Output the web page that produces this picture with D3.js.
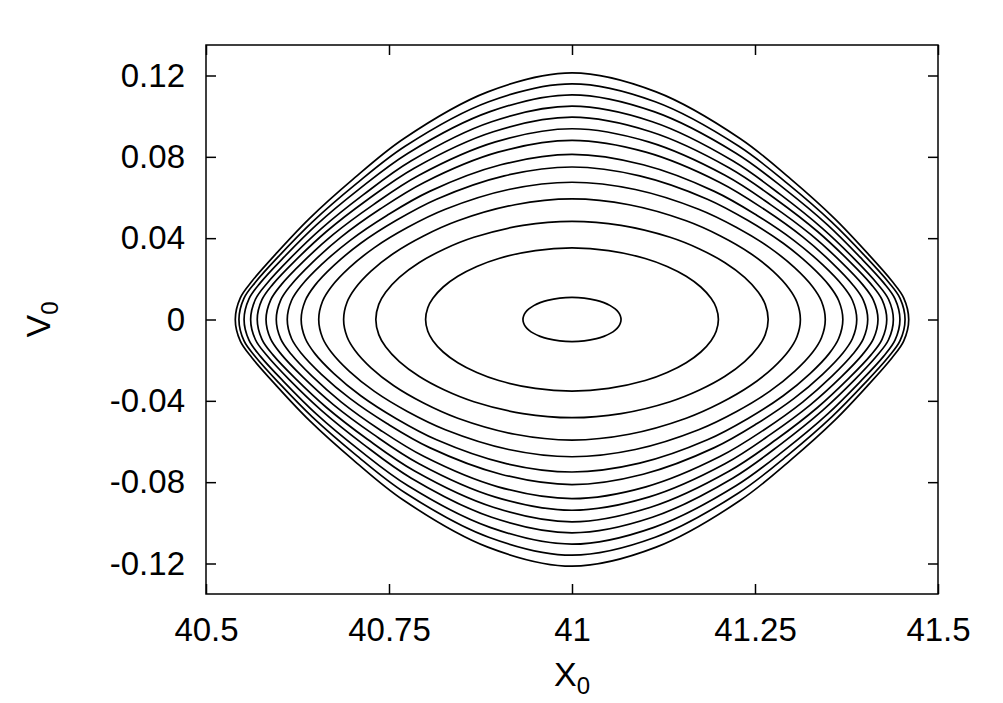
<!DOCTYPE html>
<html><head><meta charset="utf-8">
<script src="https://cdn.jsdelivr.net/npm/d3@7"></script>
<style>body{margin:0;background:#fff}svg{display:block}</style>
</head><body>
<svg id="c" width="1003" height="703"></svg>
<script>
// ---- data ----
const xTicks = [40.5, 40.75, 41, 41.25, 41.5];
const xTickLabels = ["40.5", "40.75", "41", "41.25", "41.5"];
const yTicks = [-0.12, -0.08, -0.04, 0, 0.04, 0.08, 0.12];
const yTickLabels = ["-0.12", "-0.08", "-0.04", "0", "0.04", "0.08", "0.12"];
const xCenter = 41;
// right-hand turning point (v = 0) of each closed orbit, outer to inner
const xRight = [41.460, 41.455, 41.448, 41.439, 41.430, 41.418, 41.404, 41.389, 41.370, 41.346, 41.312, 41.268, 41.200, 41.067];
// peak velocity (at X0 = 41) of each orbit, outer to inner
const vTop = [0.1213, 0.1159, 0.1105, 0.1049, 0.0995, 0.0938, 0.0881, 0.0812, 0.0750, 0.0675, 0.0593, 0.0483, 0.0352, 0.0109];
// sampled quarter-orbit shape: fraction of the half width, and fraction of the peak velocity there
const frac = [0, 0.25, 0.5, 0.65, 0.78, 0.88, 0.95, 0.985, 1];
const shape = [
  [1, 0.923, 0.733, 0.569, 0.409, 0.265, 0.156, 0.088, 0],
  [1, 0.924, 0.736, 0.573, 0.413, 0.269, 0.159, 0.090, 0],
  [1, 0.925, 0.740, 0.579, 0.420, 0.275, 0.164, 0.092, 0],
  [1, 0.927, 0.744, 0.584, 0.426, 0.282, 0.168, 0.095, 0],
  [1, 0.928, 0.749, 0.592, 0.435, 0.290, 0.175, 0.098, 0],
  [1, 0.931, 0.756, 0.601, 0.446, 0.301, 0.183, 0.102, 0],
  [1, 0.934, 0.765, 0.615, 0.461, 0.315, 0.193, 0.108, 0],
  [1, 0.937, 0.776, 0.630, 0.478, 0.332, 0.206, 0.115, 0],
  [1, 0.942, 0.789, 0.649, 0.500, 0.353, 0.222, 0.123, 0],
  [1, 0.947, 0.803, 0.670, 0.524, 0.376, 0.239, 0.133, 0],
  [1, 0.952, 0.819, 0.693, 0.550, 0.401, 0.257, 0.143, 0],
  [1, 0.958, 0.837, 0.718, 0.578, 0.429, 0.278, 0.154, 0],
  [1, 0.963, 0.853, 0.741, 0.604, 0.454, 0.296, 0.164, 0],
  [1, 0.968, 0.866, 0.760, 0.626, 0.475, 0.312, 0.172, 0]
];

// ---- layout ----
const L = 206, R = 938, T = 45, B = 594;
const svg = d3.select("#c");
const x = d3.scaleLinear().domain([40.5, 41.5]).range([L, R]);
const y = d3.scaleLinear().domain([-0.135, 0.135]).range([B, T]);
const font = "'Liberation Sans', Arial, Helvetica, sans-serif";

// orbits
function orbit(i) {
  const hw = xRight[i] - xCenter, vm = vTop[i], g = shape[i], n = frac.length;
  const pts = [];
  for (let j = 0; j < n; j++) pts.push([xCenter + frac[j] * hw, g[j] * vm]);
  for (let j = n - 2; j >= 0; j--) pts.push([xCenter + frac[j] * hw, -g[j] * vm]);
  for (let j = 1; j < n; j++) pts.push([xCenter - frac[j] * hw, -g[j] * vm]);
  for (let j = n - 2; j >= 1; j--) pts.push([xCenter - frac[j] * hw, g[j] * vm]);
  return pts;
}
const line = d3.line().x(d => x(d[0])).y(d => y(d[1])).curve(d3.curveCatmullRomClosed.alpha(0.5));
svg.append("g").selectAll("path").data(d3.range(xRight.length)).join("path")
  .attr("d", i => line(orbit(i)))
  .attr("fill", "none").attr("stroke", "#000").attr("stroke-width", 1.7);

// axes (gnuplot style, inward ticks on all sides)
const tl = 10;
const axB = d3.axisBottom(x).tickValues(xTicks).tickFormat((d, i) => xTickLabels[i]).tickSizeInner(-tl).tickSizeOuter(0).tickPadding(24);
const axT = d3.axisTop(x).tickValues(xTicks).tickFormat("").tickSizeInner(-tl).tickSizeOuter(0);
const axLf = d3.axisLeft(y).tickValues(yTicks).tickFormat((d, i) => yTickLabels[i]).tickSizeInner(-tl).tickSizeOuter(0).tickPadding(21);
const axRt = d3.axisRight(y).tickValues(yTicks).tickFormat("").tickSizeInner(-tl).tickSizeOuter(0);
function style(g) {
  g.select(".domain").remove();
  g.selectAll("line").attr("stroke", "#000").attr("stroke-width", 1.5);
  g.selectAll("text").attr("fill", "#000").style("font-family", font).style("font-size", "33px");
}
svg.append("g").attr("transform", `translate(0,${B})`).call(axB).call(style);
svg.append("g").attr("transform", `translate(0,${T})`).call(axT).call(style);
svg.append("g").attr("transform", `translate(${L},0)`).call(axLf).call(style);
svg.append("g").attr("transform", `translate(${R},0)`).call(axRt).call(style);

// frame
svg.append("rect").attr("x", L).attr("y", T).attr("width", R - L).attr("height", B - T)
  .attr("fill", "none").attr("stroke", "#000").attr("stroke-width", 1.5);

// axis titles
const xt = svg.append("text").attr("x", x(41)).attr("y", 686).attr("text-anchor", "middle")
  .style("font-family", font).style("font-size", "34px");
xt.append("tspan").text("X");
xt.append("tspan").attr("dy", 8).style("font-size", "24px").text("0");

const yt = svg.append("text").attr("transform", `translate(50,${y(0)}) rotate(-90)`).attr("text-anchor", "middle")
  .style("font-family", font).style("font-size", "34px");
yt.append("tspan").text("V");
yt.append("tspan").attr("dy", 8).style("font-size", "24px").text("0");
</script>
</body></html>
